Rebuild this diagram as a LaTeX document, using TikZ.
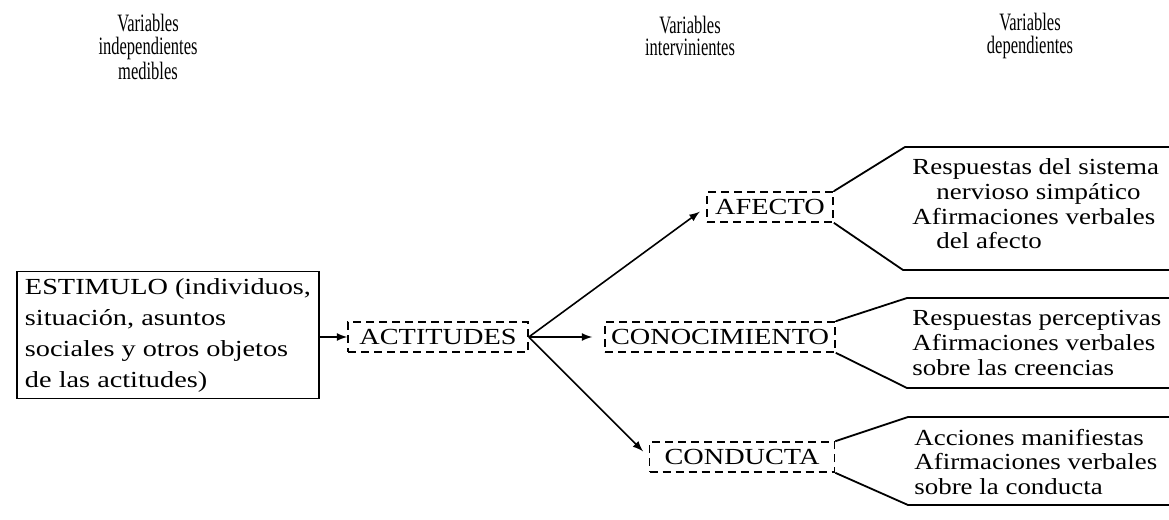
\documentclass[tikz,border=0pt]{standalone}
\usepackage{fontspec}
\setmainfont[FakeStretch=1.23]{Liberation Serif}
\newfontfamily\headfont[FakeStretch=0.66]{Liberation Serif}
\newfontfamily\respfont[FakeStretch=1.17]{Liberation Serif}
\usetikzlibrary{positioning}
\begin{document}
\begin{tikzpicture}[x=0.5pt, y=-0.5pt]
    % Define styles
    \tikzset{
        header/.style={
            font=\headfont\fontsize{12.5}{11.25}\selectfont,
            align=center,
            inner sep=0pt
        },
        stimulus/.style={
            draw,
            line width=0.9pt,
            align=left,
            inner xsep=4pt,
            minimum width=149.5pt,
            minimum height=61pt,
            font=\fontsize{11.5}{15.5}\selectfont
        },
        latent/.style={
            draw,
            line width=0.8pt,
            dash pattern=on 4pt off 2.5pt,
            inner xsep=2pt,
            minimum height=15pt,
            font=\fontsize{11.5}{12}\selectfont
        },
        response/.style={
            anchor=west,
            align=left,
            inner sep=0pt,
            font=\respfont\fontsize{11.5}{12.3}\selectfont
        },
        arrow/.style={
            ->,
            >=latex,
            line width=0.8pt
        },
        bracket/.style={
            line width=0.9pt
        }
    }
    \useasboundingbox (0,0) rectangle (1169,520);

    % Column headers
    \node[header] (indep) at (148,47) {Variables\\independientes\\medibles};
    \node[header] (interv) at (690,36) {Variables\\intervinientes};
    \node[header] (dep) at (1030,36) {Variables\\dependientes};

    % Stimulus and attitudes
    \node[stimulus] (estimulo) at (168,335) {ESTIMULO (individuos,\\situación, asuntos\\sociales y otros objetos\\de las actitudes)};
    \node[latent, minimum width=90pt] (actitudes) at (438,337) {ACTITUDES};

    % Intervening variables
    \node[latent, minimum width=63pt] (afecto) at (770,207) {AFECTO};
    \node[latent, minimum width=115pt] (conocimiento) at (720,337) {CONOCIMIENTO};
    \node[latent, minimum width=92.5pt] (conducta) at (742,457) {CONDUCTA};

    % Arrows
    \draw[arrow] (estimulo.east |- actitudes.west) -- (actitudes.west);
    \draw[arrow, shorten >=4pt] (actitudes.east) -- (afecto.west);
    \draw[arrow, shorten >=6pt] (actitudes.east) -- (conocimiento.west);
    \draw[arrow, shorten >=4pt] (actitudes.east) -- (conducta.west);

    % Brackets of the dependent variables
    \coordinate (edge) at (1169,0);
    \coordinate (afecto up) at (905,147);
    \coordinate (afecto down) at (903,270);
    \coordinate (conoc up) at (907,298);
    \coordinate (conoc down) at (907,388);
    \coordinate (conducta up) at (908,417);
    \coordinate (conducta down) at (908,505);
    \draw[bracket] (afecto.north east) -- (afecto up) -- (afecto up -| edge);
    \draw[bracket] (afecto.south east) -- (afecto down) -- (afecto down -| edge);
    \draw[bracket] (conocimiento.north east) -- (conoc up) -- (conoc up -| edge);
    \draw[bracket] (conocimiento.south east) -- (conoc down) -- (conoc down -| edge);
    \draw[bracket] (conducta.north east) -- (conducta up) -- (conducta up -| edge);
    \draw[bracket] (conducta.south east) -- (conducta down) -- (conducta down -| edge);

    % Dependent variables
    \node[response] (resp afecto) at (912,204) {Respuestas del sistema\\\hspace*{12pt}nervioso simpático\\Afirmaciones verbales\\\hspace*{12pt}del afecto};
    \node[response] (resp conoc) at (912,343) {Respuestas perceptivas\\Afirmaciones verbales\\sobre las creencias};
    \node[response] (resp conducta) at (914,462) {Acciones manifiestas\\Afirmaciones verbales\\sobre la conducta};
\end{tikzpicture}
\end{document}
